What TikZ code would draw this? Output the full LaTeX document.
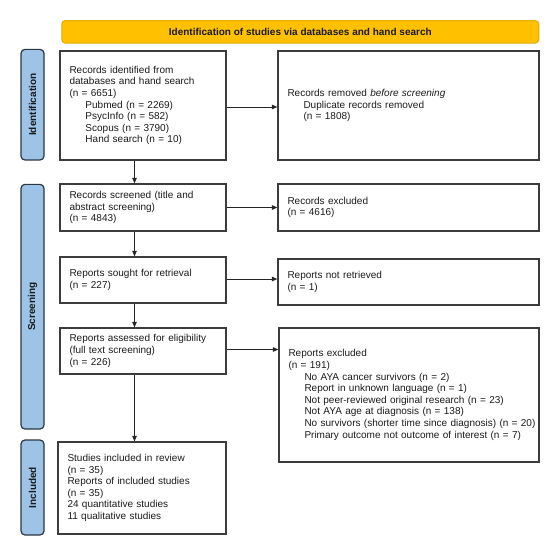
\documentclass[tikz,border=0pt]{standalone}
\usepackage{fontspec}
\setmainfont{Liberation Sans}
\usetikzlibrary{arrows.meta,positioning}
\definecolor{bannerfill}{HTML}{FFC000}
\definecolor{bannerdraw}{HTML}{E6AC00}
\definecolor{barfill}{HTML}{9DC3E6}
\definecolor{bardraw}{HTML}{2B3642}
\definecolor{boxdraw}{HTML}{3C3C3C}
\definecolor{txt}{HTML}{1A1A1A}
\tikzset{
  box/.style={draw=boxdraw, line width=1.2pt, rectangle, inner xsep=9.5pt, inner ysep=0pt,
    align=left, text=txt, font=\fontsize{10}{11.6}\selectfont},
  sidebar/.style={draw=bardraw, line width=1.2pt, fill=barfill, rounded corners=4pt,
    minimum width=23pt, inner sep=0pt},
  sidelabel/.style={rotate=90, font=\bfseries\fontsize{10}{12}\selectfont, text=txt},
  flow/.style={draw=black!85, line width=1pt, -{Triangle[length=5.5pt,width=4.5pt]}}
}
\newcommand{\ind}{\hspace*{16pt}}
\begin{document}
\begin{tikzpicture}[x=1pt,y=-1pt]
\useasboundingbox (0,0) rectangle (550,541);
% banner
\node[draw=bannerdraw, line width=1pt, fill=bannerfill, rounded corners=3.5pt,
  minimum width=477pt, minimum height=22.5pt, inner sep=0pt,
  font=\bfseries\fontsize{10}{12}\selectfont, text=txt] (banner) at (300.3,31.8)
  {Identification of studies via databases and hand search};
% side bars
\node[sidebar, minimum height=110.7pt] (barI) at (32.5,104.7) {};
\node[sidelabel] (labI) at (barI.center) {Identification};
\node[sidebar, minimum height=244.7pt] (barS) at (32.5,306.7) {};
\node[sidelabel] (labS) at (barS.center) {Screening};
\node[sidebar, minimum height=95pt] (barC) at (32.5,487.5) {};
\node[sidelabel] (labC) at (barC.center) {Included};
% left column
\node[box, text width=147pt, minimum height=109pt] (rid) at (143,105.5)
  {Records identified from\\databases and hand search\\(n = 6651)\\
   \ind Pubmed (n = 2269)\\\ind PsycInfo (n = 582)\\\ind Scopus (n = 3790)\\\ind Hand search (n = 10)};
\node[box, text width=147pt, minimum height=47pt] (scr) at (143,207.5)
  {Records screened (title and\\abstract screening)\\(n = 4843)};
\node[box, text width=147pt, minimum height=46pt] (sou) at (143,280)
  {Reports sought for retrieval\\(n = 227)};
\node[box, text width=147pt, minimum height=46pt] (ass) at (143,351)
  {Reports assessed for eligibility\\(full text screening)\\(n = 226)};
\node[box, text width=149pt, minimum height=92pt] (inc) at (142,488)
  {Studies included in review\\(n = 35)\\Reports of included studies\\(n = 35)\\24 quantitative studies\\11 qualitative studies};
% right column
\node[box, text width=242pt, minimum height=109pt] (rem) at (408.5,105.5)
  {Records removed \textit{before screening}\\\ind Duplicate records removed\\\ind (n = 1808)};
\node[box, text width=242pt, minimum height=47pt] (exc) at (408.5,207.5)
  {Records excluded\\(n = 4616)};
\node[box, text width=242pt, minimum height=46pt] (nre) at (408.5,282)
  {Reports not retrieved\\(n = 1)};
\node[box, text width=241pt, minimum height=134pt] (rex) at (409,395)
  {Reports excluded\\(n = 191)\\
   \ind No AYA cancer survivors (n = 2)\\
   \ind Report in unknown language (n = 1)\\
   \ind Not peer-reviewed original research (n = 23)\\
   \ind Not AYA age at diagnosis (n = 138)\\
   \ind\mbox{No survivors (shorter time since diagnosis) (n = 20)}\\
   \ind Primary outcome not outcome of interest (n = 7)};
% horizontal arrows
\draw[flow] ([yshift=-1.5pt]rid.east) -- ([yshift=-1.5pt]rid.east -| rem.west);
\draw[flow] (scr.east) -- (scr.east -| exc.west);
\draw[flow] ([yshift=1pt]sou.east) -- ([yshift=1pt]sou.east -| nre.west);
\draw[flow] ([yshift=1.5pt]ass.east) -- ([yshift=1.5pt]ass.east -| rex.west);
% vertical arrows
\draw[flow] ([xshift=-8.5pt]rid.south) -- ([xshift=-8.5pt]rid.south |- scr.north);
\draw[flow] ([xshift=-8.5pt]scr.south) -- ([xshift=-8.5pt]scr.south |- sou.north);
\draw[flow] ([xshift=-8.5pt]sou.south) -- ([xshift=-8.5pt]sou.south |- ass.north);
\draw[flow] ([xshift=-8.5pt]ass.south) -- ([xshift=-8.5pt]ass.south |- inc.north);
\end{tikzpicture}
\end{document}
